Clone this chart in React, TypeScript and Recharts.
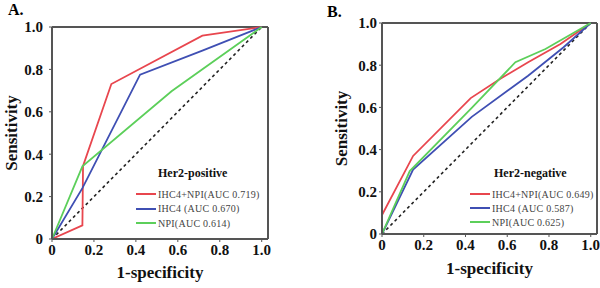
import { LineChart, Line, XAxis, YAxis, ReferenceLine, Label } from "recharts";

const TICKS = [0, 0.2, 0.4, 0.6, 0.8, 1.0];
const X_MAX = 1.03;
const FONT = "'Liberation Serif', 'Times New Roman', serif";
const RED = "#e8464e";
const BLUE = "#3f4fb3";
const GREEN = "#5ccf5a";
const FRAME = "#555";

// Her2-positive panel
const POS_COMBINED_X = [0, 0.145, 0.148, 0.283, 0.717, 1];
const POS_COMBINED_Y = [0, 0.064, 0.345, 0.731, 0.959, 1];
const POS_IHC4_X = [0, 0.145, 0.42, 0.72, 1];
const POS_IHC4_Y = [0, 0.24, 0.775, 0.89, 1];
const POS_NPI_X = [0, 0.145, 0.57, 1];
const POS_NPI_Y = [0, 0.343, 0.697, 1];

// Her2-negative panel
const NEG_COMBINED_X = [0, 0.149, 0.425, 0.567, 0.7, 0.855, 1];
const NEG_COMBINED_Y = [0.09, 0.37, 0.644, 0.736, 0.814, 0.9, 1];
const NEG_IHC4_X = [0, 0.149, 0.43, 0.7, 0.87, 1];
const NEG_IHC4_Y = [0, 0.305, 0.555, 0.75, 0.885, 1];
const NEG_NPI_X = [0, 0.133, 0.43, 0.639, 0.783, 1];
const NEG_NPI_Y = [0, 0.298, 0.598, 0.814, 0.877, 1];

const POS_LABELS = ["IHC4+NPI(AUC 0.719)", "IHC4 (AUC 0.670)", "NPI(AUC 0.614)"];
const NEG_LABELS = ["IHC4+NPI(AUC 0.649)", "IHC4 (AUC 0.587)", "NPI(AUC 0.625)"];
const COLORS = [RED, BLUE, GREEN];

function zip(xs: number[], ys: number[]) {
  return xs.map((x, i) => ({ x, y: ys[i] }));
}

const fmtTick = (v: number) => (v === 0 ? "0" : v.toFixed(1));
const tickStyle = { fontFamily: FONT, fontSize: 15, fontWeight: 700, fill: "#111" };
const titleStyle = { fontFamily: FONT, fontSize: 17, fontWeight: 700, fill: "#111", textAnchor: "middle" as const };

interface PanelProps {
  series: { x: number; y: number }[][];
  margin: { top: number; right: number; bottom: number; left: number };
  yWidth: number;
  xHeight: number;
  yTickMargin: number;
  yLabelOffset: number;
  xLabelOffset: number;
}

function RocPanel({ series, margin, yWidth, xHeight, yTickMargin, yLabelOffset, xLabelOffset }: PanelProps) {
  return (
    <LineChart width={300} height={288} margin={margin}>
      <XAxis
        type="number"
        dataKey="x"
        domain={[0, X_MAX]}
        ticks={TICKS}
        tickFormatter={fmtTick}
        allowDataOverflow
        height={xHeight}
        tick={tickStyle}
        tickSize={3}
        tickMargin={2}
        axisLine={{ stroke: FRAME, strokeWidth: 2 }}
        tickLine={{ stroke: FRAME }}
      >
        <Label value="1-specificity" position="insideBottom" offset={xLabelOffset} style={titleStyle} />
      </XAxis>
      <YAxis
        type="number"
        domain={[0, 1]}
        ticks={TICKS}
        tickFormatter={fmtTick}
        width={yWidth}
        tick={tickStyle}
        tickSize={3}
        tickMargin={yTickMargin}
        axisLine={{ stroke: FRAME, strokeWidth: 2 }}
        tickLine={{ stroke: FRAME }}
      >
        <Label value="Sensitivity" angle={-90} position="insideLeft" offset={yLabelOffset} style={titleStyle} />
      </YAxis>
      <ReferenceLine y={1} stroke={FRAME} strokeWidth={2} />
      <ReferenceLine x={X_MAX} stroke={FRAME} strokeWidth={2} />
      <ReferenceLine
        segment={[{ x: 0, y: 0 }, { x: 1, y: 1 }]}
        stroke="#222"
        strokeWidth={1.6}
        strokeDasharray="3 3"
      />
      {series.map((pts, i) => (
        <Line
          key={i}
          data={pts}
          dataKey="y"
          type="linear"
          stroke={COLORS[i]}
          strokeWidth={1.8}
          dot={false}
          activeDot={false}
          isAnimationActive={false}
        />
      ))}
    </LineChart>
  );
}

function RocLegend({ title, labels, left, titlePad, rowHeight }: { title: string; labels: string[]; left: number; titlePad: number; rowHeight: number }) {
  return (
    <div style={{ position: "absolute", left, top: 166, fontFamily: FONT }}>
      <div style={{ fontSize: 12, fontWeight: 700, lineHeight: "15px", paddingLeft: titlePad, color: "#111" }}>{title}</div>
      <div style={{ marginTop: 6 }}>
        {labels.map((l, i) => (
          <div key={l} style={{ display: "flex", alignItems: "center", height: rowHeight }}>
            <span style={{ width: 20, height: 2, background: COLORS[i], marginRight: 2 }} />
            <span style={{ fontSize: 10, color: "#444", whiteSpace: "nowrap", letterSpacing: 0.25 }}>{l}</span>
          </div>
        ))}
      </div>
    </div>
  );
}

export default function App() {
  const pos = [zip(POS_COMBINED_X, POS_COMBINED_Y), zip(POS_IHC4_X, POS_IHC4_Y), zip(POS_NPI_X, POS_NPI_Y)];
  const neg = [zip(NEG_COMBINED_X, NEG_COMBINED_Y), zip(NEG_IHC4_X, NEG_IHC4_Y), zip(NEG_NPI_X, NEG_NPI_Y)];
  return (
    <div style={{ position: "absolute", left: 0, top: 0, width: 600, height: 288, background: "#fff", overflow: "hidden" }}>
      <div style={{ position: "absolute", left: 0, top: 0 }}>
        <RocPanel
          series={pos}
          margin={{ top: 27, right: 32, bottom: 0, left: 0 }}
          yWidth={52}
          xHeight={49}
          yTickMargin={6}
          yLabelOffset={11}
          xLabelOffset={10}
        />
      </div>
      <div style={{ position: "absolute", left: 300, top: 0 }}>
        <RocPanel
          series={neg}
          margin={{ top: 23, right: 3, bottom: 0, left: 0 }}
          yWidth={82}
          xHeight={54}
          yTickMargin={2}
          yLabelOffset={41}
          xLabelOffset={14}
        />
      </div>
      <div style={{ position: "absolute", left: 8, top: 2, fontFamily: FONT, fontSize: 16, fontWeight: 700, lineHeight: "16px" }}>A.</div>
      <div style={{ position: "absolute", left: 327, top: 4, fontFamily: FONT, fontSize: 16, fontWeight: 700, lineHeight: "16px" }}>B.</div>
      <RocLegend title="Her2-positive" labels={POS_LABELS} left={136} titlePad={22} rowHeight={14.5} />
      <RocLegend title="Her2-negative" labels={NEG_LABELS} left={470} titlePad={24} rowHeight={14.2} />
    </div>
  );
}
